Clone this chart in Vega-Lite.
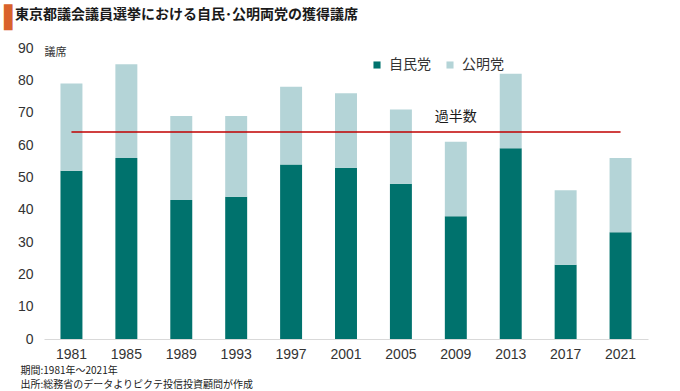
{
  "$schema": "https://vega.github.io/schema/vega-lite/v6.json",
  "width": 680,
  "height": 391,
  "autosize": {"type": "fit", "contains": "padding"},
  "padding": {"left": 4, "right": 32, "top": 7, "bottom": 2},
  "background": "white",
  "config": {
    "font": "Noto Sans CJK JP",
    "view": {"stroke": null},
    "axis": {"labelFont": "Liberation Sans", "labelColor": "#333333", "grid": false, "ticks": false}
  },
  "title": {
    "text": "▌",
    "color": "#D9622B",
    "font": "DejaVu Sans",
    "fontSize": 22,
    "anchor": "start",
    "frame": "group",
    "dx": -40,
    "offset": 11,
    "subtitle": "\u2800東京都議会議員選挙における自民･公明両党の獲得議席",
    "subtitleFont": "Noto Sans CJK JP, DejaVu Sans",
    "subtitleFontSize": 14,
    "subtitleFontWeight": "bold",
    "subtitleColor": "#1a1a1a",
    "subtitlePadding": -22
  },
  "datasets": {
    "seats": [
      {"year": "1981", "party": "自民党", "order": 1, "seats": 52},
      {"year": "1981", "party": "公明党", "order": 2, "seats": 27},
      {"year": "1985", "party": "自民党", "order": 1, "seats": 56},
      {"year": "1985", "party": "公明党", "order": 2, "seats": 29},
      {"year": "1989", "party": "自民党", "order": 1, "seats": 43},
      {"year": "1989", "party": "公明党", "order": 2, "seats": 26},
      {"year": "1993", "party": "自民党", "order": 1, "seats": 44},
      {"year": "1993", "party": "公明党", "order": 2, "seats": 25},
      {"year": "1997", "party": "自民党", "order": 1, "seats": 54},
      {"year": "1997", "party": "公明党", "order": 2, "seats": 24},
      {"year": "2001", "party": "自民党", "order": 1, "seats": 53},
      {"year": "2001", "party": "公明党", "order": 2, "seats": 23},
      {"year": "2005", "party": "自民党", "order": 1, "seats": 48},
      {"year": "2005", "party": "公明党", "order": 2, "seats": 23},
      {"year": "2009", "party": "自民党", "order": 1, "seats": 38},
      {"year": "2009", "party": "公明党", "order": 2, "seats": 23},
      {"year": "2013", "party": "自民党", "order": 1, "seats": 59},
      {"year": "2013", "party": "公明党", "order": 2, "seats": 23},
      {"year": "2017", "party": "自民党", "order": 1, "seats": 23},
      {"year": "2017", "party": "公明党", "order": 2, "seats": 23},
      {"year": "2021", "party": "自民党", "order": 1, "seats": 33},
      {"year": "2021", "party": "公明党", "order": 2, "seats": 23}
    ],
    "majority": [
      {"start": "1981", "end": "2021", "labelYear": "2009", "value": 64, "label": "過半数"}
    ]
  },
  "layer": [
    {
      "data": {"name": "seats"},
      "mark": {"type": "bar"},
      "encoding": {
        "x": {
          "field": "year", "type": "ordinal",
          "scale": {"paddingInner": 0.6, "paddingOuter": 0.3},
          "axis": {
            "labelAngle": 0, "labelFontSize": 14, "labelPadding": 8,
            "domainColor": "#d9d9d9",
            "title": ["期間:1981年～2021年", "出所:総務省のデータよりピクテ投信投資顧問が作成"],
            "titleFont": "Noto Sans CJK JP", "titleFontSize": 10, "titleFontWeight": "normal",
            "titleColor": "#1a1a1a", "titleAlign": "left", "titleAnchor": "start",
            "titleX": -24, "titleY": 26, "titleBaseline": "top", "titleLineHeight": 14
          }
        },
        "y": {
          "field": "seats", "type": "quantitative", "stack": "zero",
          "scale": {"domain": [0, 90], "nice": false},
          "axis": {
            "values": [0, 10, 20, 30, 40, 50, 60, 70, 80, 90],
            "labelOverlap": false, "labelBound": false, "labelFlush": false,
            "domain": false, "labelFontSize": 14, "labelPadding": 11,
            "title": "議席", "titleAngle": 0, "titleFontSize": 11, "titleFontWeight": "normal",
            "titleColor": "#333333", "titleAlign": "left", "titleX": 0, "titleY": 4, "titleBaseline": "middle"
          }
        },
        "color": {
          "field": "party", "type": "nominal",
          "scale": {"domain": ["自民党", "公明党"], "range": ["#00726D", "#B4D4D7"]},
          "legend": {
            "orient": "none", "legendX": 326, "legendY": 10, "direction": "horizontal",
            "title": null, "symbolType": "square", "symbolSize": 50,
            "labelFontSize": 14, "labelColor": "#333333", "columnPadding": 12, "labelOffset": 5
          }
        },
        "order": {"field": "order", "type": "quantitative"}
      }
    },
    {
      "data": {"name": "majority"},
      "mark": {"type": "rule", "color": "#C00000", "strokeWidth": 1.5},
      "encoding": {
        "x": {"field": "start", "type": "ordinal"},
        "x2": {"field": "end"},
        "y": {
          "field": "value", "type": "quantitative",
          "axis": {
            "values": [0, 10, 20, 30, 40, 50, 60, 70, 80, 90],
            "labelOverlap": false, "labelBound": false, "labelFlush": false,
            "domain": false, "labelFontSize": 14, "labelPadding": 11,
            "title": "議席", "titleAngle": 0, "titleFontSize": 11, "titleFontWeight": "normal",
            "titleColor": "#333333", "titleAlign": "left", "titleX": 0, "titleY": 4, "titleBaseline": "middle"
          }
        }
      }
    },
    {
      "data": {"name": "majority"},
      "mark": {"type": "text", "dy": -15, "fontSize": 14, "color": "#1a1a1a", "baseline": "middle"},
      "encoding": {
        "x": {"field": "labelYear", "type": "ordinal"},
        "y": {
          "field": "value", "type": "quantitative",
          "axis": {
            "values": [0, 10, 20, 30, 40, 50, 60, 70, 80, 90],
            "labelOverlap": false, "labelBound": false, "labelFlush": false,
            "domain": false, "labelFontSize": 14, "labelPadding": 11,
            "title": "議席", "titleAngle": 0, "titleFontSize": 11, "titleFontWeight": "normal",
            "titleColor": "#333333", "titleAlign": "left", "titleX": 0, "titleY": 4, "titleBaseline": "middle"
          }
        },
        "text": {"field": "label"}
      }
    }
  ]
}
